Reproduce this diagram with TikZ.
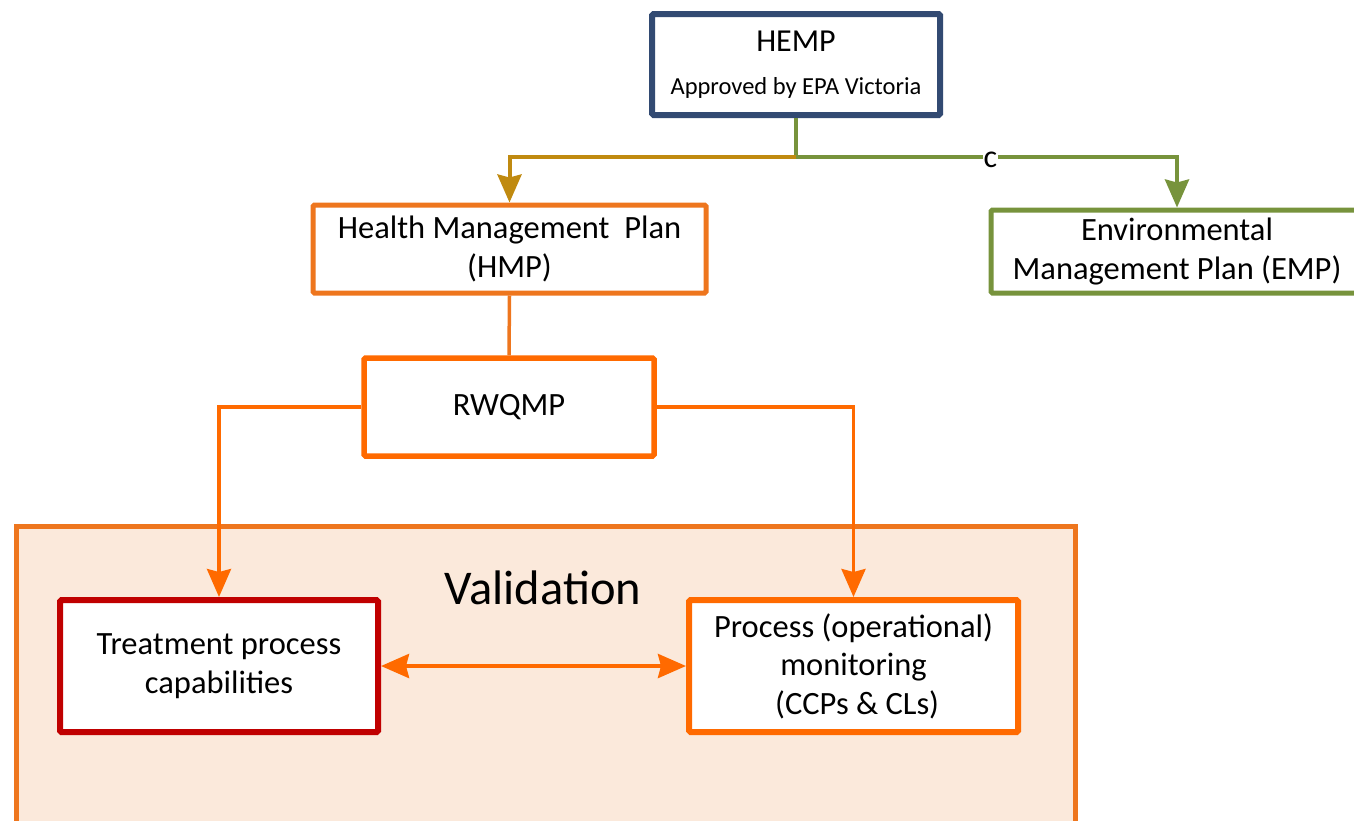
\documentclass[tikz,border=0pt]{standalone}
\usepackage{fontspec}
\setmainfont{Carlito}
\usetikzlibrary{arrows.meta}

\definecolor{hempblue}{RGB}{50,74,114}
\definecolor{planGold}{RGB}{192,138,16}
\definecolor{planGreen}{RGB}{119,147,60}
\definecolor{hmpOrange}{RGB}{238,118,30}
\definecolor{rwOrange}{RGB}{255,106,0}
\definecolor{valFill}{RGB}{251,233,219}
\definecolor{treatRed}{RGB}{192,0,0}

\tikzset{
  box/.style={draw, fill=white, rounded corners=1.5pt, align=center, inner sep=0pt,
    font=\fontsize{32.5}{38.5}\selectfont},
  tip/.style={-{Stealth[length=28pt, width=24pt, inset=3pt]}},
  twotip/.style={{Stealth[length=28pt, width=24pt, inset=3pt]}-{Stealth[length=28pt, width=24pt, inset=3pt]}},
}

\begin{document}
\begin{tikzpicture}[x=1pt, y=-1pt]
  \useasboundingbox (0,0) rectangle (1354,820);
  \clip (0,0) rectangle (1354,820);

  % validation area
  \node[draw=hmpOrange, fill=valFill, line width=5pt, minimum width=1059pt, minimum height=330pt,
        inner sep=0pt, anchor=north west] (valbox) at (14,524) {};
  \node[font=\fontsize{48.5}{52}\selectfont] (valtitle) at (543,588) {Validation};

  % plan boxes
  \node[box, draw=hempblue, line width=6pt, minimum width=288pt, minimum height=101pt] (hemp) at (796,64.5)
    {{\fontsize{32}{40}\selectfont HEMP}\\[4pt]{\fontsize{24.5}{28}\selectfont Approved by EPA Victoria}};
  \node[box, draw=hmpOrange, line width=5pt, minimum width=393pt, minimum height=88pt] (hmp) at (509.5,249)
    {Health Management\ \ Plan\\(HMP)};
  \node[box, draw=planGreen, line width=5pt, minimum width=372pt, minimum height=83pt] (emp) at (1177,251.5)
    {Environmental\\Management Plan (EMP)};
  \node[box, draw=rwOrange, line width=5.5pt, minimum width=290pt, minimum height=98pt] (rwqmp) at (509,407)
    {RWQMP};
  \node[box, draw=treatRed, line width=6pt, minimum width=318pt, minimum height=132pt] (treat) at (219,666)
    {\raisebox{-3pt}{\parbox{300pt}{\centering Treatment process\\capabilities}}};
  \node[box, draw=rwOrange, line width=6pt, minimum width=329pt, minimum height=132pt] (proc) at (853.5,666)
    {Process (operational)\\monitoring\\\ (CCPs \& CLs)};

  % connectors from HEMP
  \coordinate (split) at (796,157);
  \draw[planGreen, line width=4pt] (hemp.south) -- (split);
  \draw[planGold, line width=4pt, tip] (split) -| (hmp.north);
  \draw[planGreen, line width=4pt, tip] (split) -| (emp.north)
    node[pos=0.255, fill=white, inner sep=0.5pt, text=black, font=\fontsize{32}{34}\selectfont, yshift=-3pt] (clabel) {c};

  % HMP to RWQMP and on to the validation boxes
  \draw[hmpOrange, line width=3.5pt] (hmp.south) -- (rwqmp.north);
  \draw[rwOrange, line width=3.5pt, tip] (rwqmp.west) -| (treat.north);
  \draw[rwOrange, line width=3.5pt, tip] (rwqmp.east) -| (proc.north);
  \draw[rwOrange, line width=4pt, twotip] (treat.east) -- (proc.west);
\end{tikzpicture}
\end{document}
